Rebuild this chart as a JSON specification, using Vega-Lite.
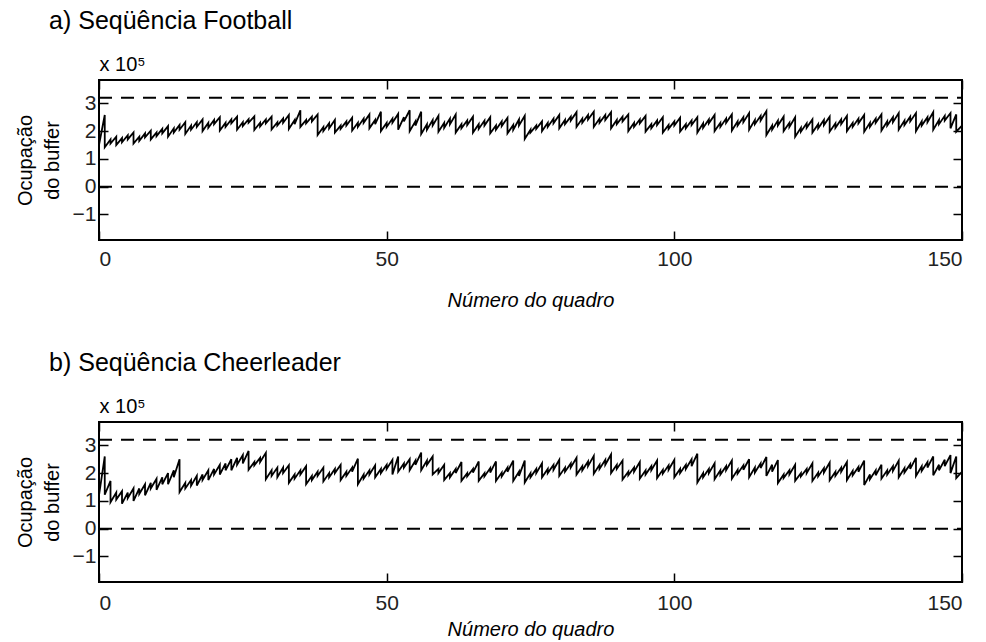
{
  "$schema": "https://vega.github.io/schema/vega-lite/v6.json",
  "background": "white",
  "padding": {"left": 14, "top": 8, "right": 5, "bottom": 5},
  "config": {
    "view": {"stroke": "black", "strokeWidth": 2},
    "font": "Liberation Sans",
    "axis": {"labelFont": "Liberation Sans", "labelFontSize": 21, "labelColor": "#222", "titleFont": "Liberation Sans", "titleFontSize": 20, "titleFontWeight": "normal", "titleColor": "black", "tickColor": "black", "tickWidth": 1.5, "tickSize": -9, "domain": false, "grid": false},
    "title": {"font": "Liberation Sans", "fontSize": 25, "fontWeight": "normal", "anchor": "start", "frame": "bounds", "color": "black"},
    "concat": {"spacing": 39}
  },
  "datasets": {
    "a": [
      {"f":0,"h":1.55,"l":1.5},{"f":1,"h":2.58,"l":1.42},{"f":2,"h":1.7,"l":1.55},{"f":3,"h":1.8,"l":1.5},{"f":4,"h":1.75,"l":1.6},{"f":5,"h":1.85,"l":1.7},{"f":6,"h":1.95,"l":1.55},{"f":7,"h":1.8,"l":1.65},{"f":8,"h":1.92,"l":1.78},{"f":9,"h":2.02,"l":1.7},
      {"f":10,"h":1.95,"l":1.82},{"f":11,"h":2.08,"l":1.92},{"f":12,"h":2.18,"l":1.8},{"f":13,"h":2.1,"l":1.95},{"f":14,"h":2.22,"l":2.05},{"f":15,"h":2.32,"l":1.9},{"f":16,"h":2.2,"l":2.05},{"f":17,"h":2.32,"l":2.15},{"f":18,"h":2.42,"l":2.0},{"f":19,"h":2.3,"l":2.12},
      {"f":20,"h":2.4,"l":2.25},{"f":21,"h":2.5,"l":2.02},{"f":22,"h":2.3,"l":2.15},{"f":23,"h":2.42,"l":2.28},{"f":24,"h":2.52,"l":2.05},{"f":25,"h":2.32,"l":2.18},{"f":26,"h":2.43,"l":2.3},{"f":27,"h":2.53,"l":2.04},{"f":28,"h":2.3,"l":2.17},{"f":29,"h":2.42,"l":2.28},
      {"f":30,"h":2.52,"l":2.06},{"f":31,"h":2.32,"l":2.2},{"f":32,"h":2.45,"l":2.3},{"f":33,"h":2.58,"l":2.08},{"f":34,"h":2.4,"l":2.25},{"f":35,"h":2.75,"l":2.15},{"f":36,"h":2.4,"l":2.28},{"f":37,"h":2.52,"l":2.35},{"f":38,"h":2.6,"l":1.86},{"f":39,"h":2.15,"l":2.0},
      {"f":40,"h":2.28,"l":2.1},{"f":41,"h":2.4,"l":1.95},{"f":42,"h":2.2,"l":2.08},{"f":43,"h":2.35,"l":2.2},{"f":44,"h":2.48,"l":2.02},{"f":45,"h":2.3,"l":2.15},{"f":46,"h":2.45,"l":2.3},{"f":47,"h":2.6,"l":2.1},{"f":48,"h":2.4,"l":2.25},{"f":49,"h":2.7,"l":2.0},
      {"f":50,"h":2.3,"l":2.15},{"f":51,"h":2.45,"l":2.3},{"f":52,"h":2.62,"l":2.05},{"f":53,"h":2.5,"l":2.35},{"f":54,"h":2.75,"l":2.0},{"f":55,"h":2.35,"l":2.2},{"f":56,"h":2.7,"l":1.9},{"f":57,"h":2.25,"l":2.05},{"f":58,"h":2.4,"l":2.2},{"f":59,"h":2.55,"l":1.98},
      {"f":60,"h":2.3,"l":2.12},{"f":61,"h":2.45,"l":2.25},{"f":62,"h":2.6,"l":1.95},{"f":63,"h":2.25,"l":2.1},{"f":64,"h":2.38,"l":2.22},{"f":65,"h":2.52,"l":1.95},{"f":66,"h":2.25,"l":2.08},{"f":67,"h":2.38,"l":2.2},{"f":68,"h":2.5,"l":1.92},{"f":69,"h":2.2,"l":2.05},
      {"f":70,"h":2.35,"l":2.18},{"f":71,"h":2.48,"l":1.92},{"f":72,"h":2.22,"l":2.05},{"f":73,"h":2.42,"l":2.2},{"f":74,"h":2.55,"l":1.72},{"f":75,"h":2.05,"l":1.95},{"f":76,"h":2.2,"l":2.08},{"f":77,"h":2.35,"l":2.0},{"f":78,"h":2.3,"l":2.15},{"f":79,"h":2.45,"l":2.28},
      {"f":80,"h":2.58,"l":2.1},{"f":81,"h":2.4,"l":2.25},{"f":82,"h":2.52,"l":2.38},{"f":83,"h":2.68,"l":2.15},{"f":84,"h":2.45,"l":2.3},{"f":85,"h":2.58,"l":2.42},{"f":86,"h":2.7,"l":2.15},{"f":87,"h":2.45,"l":2.3},{"f":88,"h":2.58,"l":2.4},{"f":89,"h":2.68,"l":2.1},
      {"f":90,"h":2.4,"l":2.25},{"f":91,"h":2.52,"l":2.35},{"f":92,"h":2.6,"l":2.0},{"f":93,"h":2.3,"l":2.15},{"f":94,"h":2.42,"l":2.28},{"f":95,"h":2.55,"l":1.98},{"f":96,"h":2.25,"l":2.1},{"f":97,"h":2.38,"l":2.22},{"f":98,"h":2.5,"l":1.95},{"f":99,"h":2.22,"l":2.08},
      {"f":100,"h":2.35,"l":2.2},{"f":101,"h":2.48,"l":1.98},{"f":102,"h":2.25,"l":2.1},{"f":103,"h":2.38,"l":2.22},{"f":104,"h":2.5,"l":1.95},{"f":105,"h":2.28,"l":2.12},{"f":106,"h":2.42,"l":2.28},{"f":107,"h":2.58,"l":2.0},{"f":108,"h":2.3,"l":2.15},{"f":109,"h":2.45,"l":2.3},
      {"f":110,"h":2.6,"l":2.02},{"f":111,"h":2.35,"l":2.2},{"f":112,"h":2.5,"l":2.32},{"f":113,"h":2.65,"l":2.05},{"f":114,"h":2.4,"l":2.25},{"f":115,"h":2.55,"l":2.38},{"f":116,"h":2.72,"l":1.86},{"f":117,"h":2.2,"l":2.05},{"f":118,"h":2.38,"l":2.2},{"f":119,"h":2.52,"l":2.0},
      {"f":120,"h":2.3,"l":2.15},{"f":121,"h":2.5,"l":1.8},{"f":122,"h":2.12,"l":1.98},{"f":123,"h":2.28,"l":2.12},{"f":124,"h":2.42,"l":1.95},{"f":125,"h":2.25,"l":2.1},{"f":126,"h":2.4,"l":2.22},{"f":127,"h":2.52,"l":1.98},{"f":128,"h":2.28,"l":2.12},{"f":129,"h":2.42,"l":2.25},
      {"f":130,"h":2.55,"l":2.0},{"f":131,"h":2.3,"l":2.15},{"f":132,"h":2.45,"l":2.28},{"f":133,"h":2.58,"l":1.98},{"f":134,"h":2.3,"l":2.15},{"f":135,"h":2.45,"l":2.3},{"f":136,"h":2.6,"l":2.02},{"f":137,"h":2.35,"l":2.2},{"f":138,"h":2.5,"l":2.32},{"f":139,"h":2.65,"l":2.05},
      {"f":140,"h":2.38,"l":2.22},{"f":141,"h":2.52,"l":2.35},{"f":142,"h":2.65,"l":2.0},{"f":143,"h":2.35,"l":2.2},{"f":144,"h":2.5,"l":2.32},{"f":145,"h":2.68,"l":2.05},{"f":146,"h":2.4,"l":2.25},{"f":147,"h":2.55,"l":2.38},{"f":148,"h":2.65,"l":2.1},{"f":149,"h":2.6,"l":1.98},
      {"f":150,"h":2.2,"l":2.2}
    ],
    "b": [
      {"f":0,"h":1.25,"l":1.2},{"f":1,"h":2.6,"l":1.22},{"f":2,"h":1.72,"l":0.95},{"f":3,"h":1.3,"l":1.05},{"f":4,"h":1.35,"l":0.9},{"f":5,"h":1.3,"l":1.1},{"f":6,"h":1.45,"l":1.0},{"f":7,"h":1.45,"l":1.25},{"f":8,"h":1.6,"l":1.2},{"f":9,"h":1.65,"l":1.45},
      {"f":10,"h":1.8,"l":1.4},{"f":11,"h":1.85,"l":1.6},{"f":12,"h":2.0,"l":1.6},{"f":13,"h":2.1,"l":1.85},{"f":14,"h":2.5,"l":1.32},{"f":15,"h":1.65,"l":1.45},{"f":16,"h":1.75,"l":1.55},{"f":17,"h":1.9,"l":1.55},{"f":18,"h":1.95,"l":1.75},{"f":19,"h":2.1,"l":1.75},
      {"f":20,"h":2.15,"l":1.95},{"f":21,"h":2.3,"l":1.95},{"f":22,"h":2.35,"l":2.1},{"f":23,"h":2.5,"l":2.1},{"f":24,"h":2.55,"l":2.3},{"f":25,"h":2.65,"l":2.35},{"f":26,"h":2.8,"l":2.12},{"f":27,"h":2.4,"l":2.28},{"f":28,"h":2.55,"l":2.4},{"f":29,"h":2.73,"l":1.78},
      {"f":30,"h":2.1,"l":1.9},{"f":31,"h":2.2,"l":1.85},{"f":32,"h":2.2,"l":2.0},{"f":33,"h":2.28,"l":1.65},{"f":34,"h":1.95,"l":1.8},{"f":35,"h":2.1,"l":1.95},{"f":36,"h":2.25,"l":1.6},{"f":37,"h":1.9,"l":1.75},{"f":38,"h":2.05,"l":1.9},{"f":39,"h":2.2,"l":1.7},
      {"f":40,"h":2.0,"l":1.85},{"f":41,"h":2.15,"l":2.0},{"f":42,"h":2.3,"l":1.75},{"f":43,"h":2.05,"l":1.9},{"f":44,"h":2.2,"l":2.05},{"f":45,"h":2.52,"l":1.6},{"f":46,"h":1.95,"l":1.8},{"f":47,"h":2.1,"l":1.95},{"f":48,"h":2.28,"l":1.85},{"f":49,"h":2.15,"l":2.0},
      {"f":50,"h":2.3,"l":2.15},{"f":51,"h":2.48,"l":1.95},{"f":52,"h":2.6,"l":2.05},{"f":53,"h":2.35,"l":2.2},{"f":54,"h":2.5,"l":2.1},{"f":55,"h":2.45,"l":2.3},{"f":56,"h":2.74,"l":2.1},{"f":57,"h":2.45,"l":2.3},{"f":58,"h":2.6,"l":1.95},{"f":59,"h":2.15,"l":2.0},
      {"f":60,"h":2.3,"l":1.75},{"f":61,"h":2.0,"l":1.85},{"f":62,"h":2.15,"l":2.0},{"f":63,"h":2.4,"l":1.72},{"f":64,"h":2.0,"l":1.88},{"f":65,"h":2.15,"l":2.02},{"f":66,"h":2.42,"l":1.72},{"f":67,"h":2.0,"l":1.88},{"f":68,"h":2.18,"l":2.02},{"f":69,"h":2.42,"l":1.72},
      {"f":70,"h":2.02,"l":1.88},{"f":71,"h":2.2,"l":2.05},{"f":72,"h":2.45,"l":1.72},{"f":73,"h":2.05,"l":1.9},{"f":74,"h":2.45,"l":1.66},{"f":75,"h":2.0,"l":1.85},{"f":76,"h":2.15,"l":2.0},{"f":77,"h":2.35,"l":1.85},{"f":78,"h":2.15,"l":2.0},{"f":79,"h":2.3,"l":2.12},
      {"f":80,"h":2.48,"l":1.9},{"f":81,"h":2.2,"l":2.05},{"f":82,"h":2.35,"l":2.2},{"f":83,"h":2.55,"l":1.95},{"f":84,"h":2.25,"l":2.1},{"f":85,"h":2.42,"l":2.25},{"f":86,"h":2.62,"l":1.98},{"f":87,"h":2.3,"l":2.15},{"f":88,"h":2.48,"l":2.3},{"f":89,"h":2.67,"l":2.0},
      {"f":90,"h":2.3,"l":2.15},{"f":91,"h":2.45,"l":1.77},{"f":92,"h":2.05,"l":1.92},{"f":93,"h":2.2,"l":2.05},{"f":94,"h":2.4,"l":1.8},{"f":95,"h":2.1,"l":1.95},{"f":96,"h":2.25,"l":2.1},{"f":97,"h":2.45,"l":1.82},{"f":98,"h":2.12,"l":1.98},{"f":99,"h":2.28,"l":2.12},
      {"f":100,"h":2.48,"l":1.85},{"f":101,"h":2.15,"l":2.0},{"f":102,"h":2.3,"l":2.15},{"f":103,"h":2.5,"l":2.25},{"f":104,"h":2.7,"l":1.66},{"f":105,"h":2.0,"l":1.85},{"f":106,"h":2.15,"l":2.0},{"f":107,"h":2.35,"l":1.78},{"f":108,"h":2.1,"l":1.95},{"f":109,"h":2.25,"l":2.1},
      {"f":110,"h":2.45,"l":1.8},{"f":111,"h":2.12,"l":1.98},{"f":112,"h":2.28,"l":2.12},{"f":113,"h":2.5,"l":1.85},{"f":114,"h":2.2,"l":2.02},{"f":115,"h":2.35,"l":2.18},{"f":116,"h":2.58,"l":1.9},{"f":117,"h":2.3,"l":2.05},{"f":118,"h":2.47,"l":1.64},{"f":119,"h":1.95,"l":1.82},
      {"f":120,"h":2.1,"l":1.95},{"f":121,"h":2.3,"l":1.72},{"f":122,"h":2.0,"l":1.88},{"f":123,"h":2.15,"l":2.0},{"f":124,"h":2.35,"l":1.72},{"f":125,"h":2.02,"l":1.88},{"f":126,"h":2.18,"l":2.02},{"f":127,"h":2.38,"l":1.74},{"f":128,"h":2.05,"l":1.9},{"f":129,"h":2.2,"l":2.05},
      {"f":130,"h":2.4,"l":1.75},{"f":131,"h":2.08,"l":1.92},{"f":132,"h":2.22,"l":2.05},{"f":133,"h":2.45,"l":1.57},{"f":134,"h":1.95,"l":1.78},{"f":135,"h":2.1,"l":1.92},{"f":136,"h":2.3,"l":1.8},{"f":137,"h":2.1,"l":1.95},{"f":138,"h":2.25,"l":2.08},{"f":139,"h":2.45,"l":1.85},
      {"f":140,"h":2.18,"l":2.02},{"f":141,"h":2.32,"l":2.15},{"f":142,"h":2.55,"l":1.9},{"f":143,"h":2.25,"l":2.08},{"f":144,"h":2.4,"l":2.2},{"f":145,"h":2.6,"l":1.92},{"f":146,"h":2.3,"l":2.1},{"f":147,"h":2.48,"l":2.25},{"f":148,"h":2.65,"l":2.0},{"f":149,"h":2.6,"l":1.82},
      {"f":150,"h":2.05,"l":2.0}
    ],
    "lims": [{"lim": 3.2, "x0": 0, "x1": 150}, {"lim": 0, "x0": 0, "x1": 150}]
  },
  "vconcat": [
    {
      "width": 863, "height": 160,
      "title": {"text": "a) Seqüência Football", "dx": 34, "offset": 20},
      "layer": [
        {
          "data": {"name": "a"},
          "transform": [{"fold": ["h", "l"], "as": ["k", "v"]}],
          "mark": {"type": "line", "color": "black", "strokeWidth": 1.8},
          "encoding": {
            "x": {"field": "f", "type": "quantitative", "scale": {"domain": [0, 150], "nice": false},
                  "axis": {"orient": "bottom", "values": [0, 50, 100, 150], "title": "Número do quadro", "titleFontStyle": "italic", "labelPadding": 17, "titlePadding": 21}},
            "y": {"field": "v", "type": "quantitative", "scale": {"domain": [-1.92, 3.84], "nice": false, "zero": false},
                  "axis": {"orient": "left", "values": [-1, 0, 1, 2, 3], "title": ["Ocupação", "do buffer"], "titleLineHeight": 27, "labelPadding": 12, "titlePadding": 10}},
            "order": [{"field": "f", "type": "quantitative"}, {"field": "k", "type": "ordinal"}]
          }
        },
        {
          "data": {"name": "lims"},
          "mark": {"type": "rule", "strokeDash": [13, 9], "strokeWidth": 2, "color": "black"},
          "encoding": {
            "x": {"field": "x0", "type": "quantitative", "axis": {"orient": "top", "values": [0, 50, 100, 150], "labels": false, "title": "x 10⁵", "titleAnchor": "start", "titleAlign": "left", "titlePadding": 5}},
            "x2": {"field": "x1"},
            "y": {"field": "lim", "type": "quantitative", "axis": {"orient": "right", "values": [-1, 0, 1, 2, 3], "labels": false, "title": null}}
          }
        }
      ]
    },
    {
      "width": 863, "height": 160,
      "title": {"text": "b) Seqüência Cheerleader", "dx": 34, "offset": 20},
      "layer": [
        {
          "data": {"name": "b"},
          "transform": [{"fold": ["h", "l"], "as": ["k", "v"]}],
          "mark": {"type": "line", "color": "black", "strokeWidth": 1.8},
          "encoding": {
            "x": {"field": "f", "type": "quantitative", "scale": {"domain": [0, 150], "nice": false},
                  "axis": {"orient": "bottom", "values": [0, 50, 100, 150], "title": "Número do quadro", "titleFontStyle": "italic", "labelPadding": 19, "titlePadding": 6}},
            "y": {"field": "v", "type": "quantitative", "scale": {"domain": [-1.92, 3.84], "nice": false, "zero": false},
                  "axis": {"orient": "left", "values": [-1, 0, 1, 2, 3], "title": ["Ocupação", "do buffer"], "titleLineHeight": 27, "labelPadding": 12, "titlePadding": 10}},
            "order": [{"field": "f", "type": "quantitative"}, {"field": "k", "type": "ordinal"}]
          }
        },
        {
          "data": {"name": "lims"},
          "mark": {"type": "rule", "strokeDash": [13, 9], "strokeWidth": 2, "color": "black"},
          "encoding": {
            "x": {"field": "x0", "type": "quantitative", "axis": {"orient": "top", "values": [0, 50, 100, 150], "labels": false, "title": "x 10⁵", "titleAnchor": "start", "titleAlign": "left", "titlePadding": 5}},
            "x2": {"field": "x1"},
            "y": {"field": "lim", "type": "quantitative", "axis": {"orient": "right", "values": [-1, 0, 1, 2, 3], "labels": false, "title": null}}
          }
        }
      ]
    }
  ]
}
